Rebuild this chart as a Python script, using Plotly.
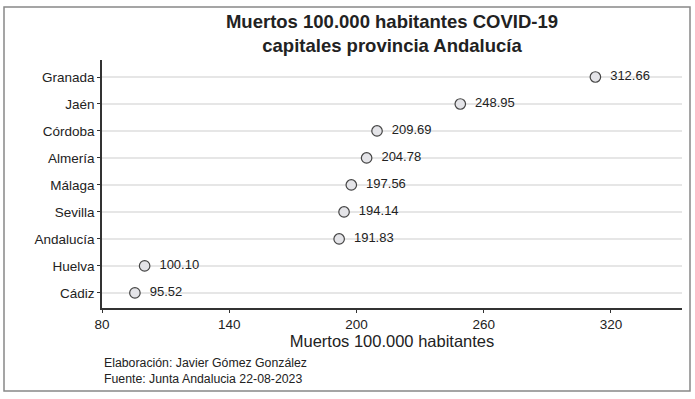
import plotly.graph_objects as go

categories = ["Cádiz", "Huelva", "Andalucía", "Sevilla", "Málaga", "Almería", "Córdoba", "Jaén", "Granada"]
values = [95.52, 100.10, 191.83, 194.14, 197.56, 204.78, 209.69, 248.95, 312.66]
labels = ["95.52", "100.10", "191.83", "194.14", "197.56", "204.78", "209.69", "248.95", "312.66"]
x_ticks = [80, 140, 200, 260, 320]

FONT = "Liberation Sans, Arial, sans-serif"

fig = go.Figure()
fig.add_trace(go.Scatter(
    x=values, y=categories, mode="markers+text",
    text=["  " + t for t in labels], textposition="middle right",
    textfont=dict(size=13, color="#222222", family=FONT),
    marker=dict(size=10.5, color="#e4e4e8", line=dict(color="#444444", width=1.2)),
    cliponaxis=False, hoverinfo="x+y", showlegend=False,
))

fig.update_layout(
    width=695, height=399,
    paper_bgcolor="white", plot_bgcolor="white",
    margin=dict(l=102, r=13, t=60, b=91),
    font=dict(family=FONT, color="#222222"),
    title=dict(
        text="<b>Muertos 100.000 habitantes COVID-19<br>capitales provincia Andalucía</b>",
        x=(102 + 682) / 2 / 695, xanchor="center", y=1 - 27.5 / 399, yanchor="middle",
        font=dict(size=18.5, color="#222222", family=FONT),
    ),
    xaxis=dict(
        range=[80, 353.5], tickvals=x_ticks, ticktext=[str(t) for t in x_ticks],
        showgrid=False, zeroline=False,
        showline=True, linecolor="#333333", linewidth=1.5,
        ticks="outside", ticklen=3, tickcolor="#333333",
        tickfont=dict(size=13.5, color="#222222"),
        title=dict(text="Muertos 100.000 habitantes", font=dict(size=16.5, color="#222222"), standoff=3),
    ),
    yaxis=dict(
        categoryorder="array", categoryarray=categories,
        range=[-0.56, 8.63],
        showgrid=True, gridcolor="#e6e6e6", gridwidth=1.5,
        showline=True, linecolor="#333333", linewidth=1.5,
        ticks="outside", ticklen=3, tickcolor="#333333",
        tickfont=dict(size=13.5, color="#222222"),
    ),
    shapes=[dict(type="rect", xref="paper", yref="paper",
                 x0=-98/580, x1=1 + 8/580, y0=-83/248, y1=1 + 53/248,
                 line=dict(color="#888888", width=1.5))],
    annotations=[dict(
        text="Elaboración: Javier Gómez González<br>Fuente: Junta Andalucia 22-08-2023",
        xref="paper", yref="paper", x=0, y=-46/248, xanchor="left", yanchor="top",
        align="left", showarrow=False, font=dict(size=12.3, color="#222222", family=FONT),
    )],
)

fig.write_html("out.html", config={"displayModeBar": False},
               post_script="document.body.style.margin='0';")
